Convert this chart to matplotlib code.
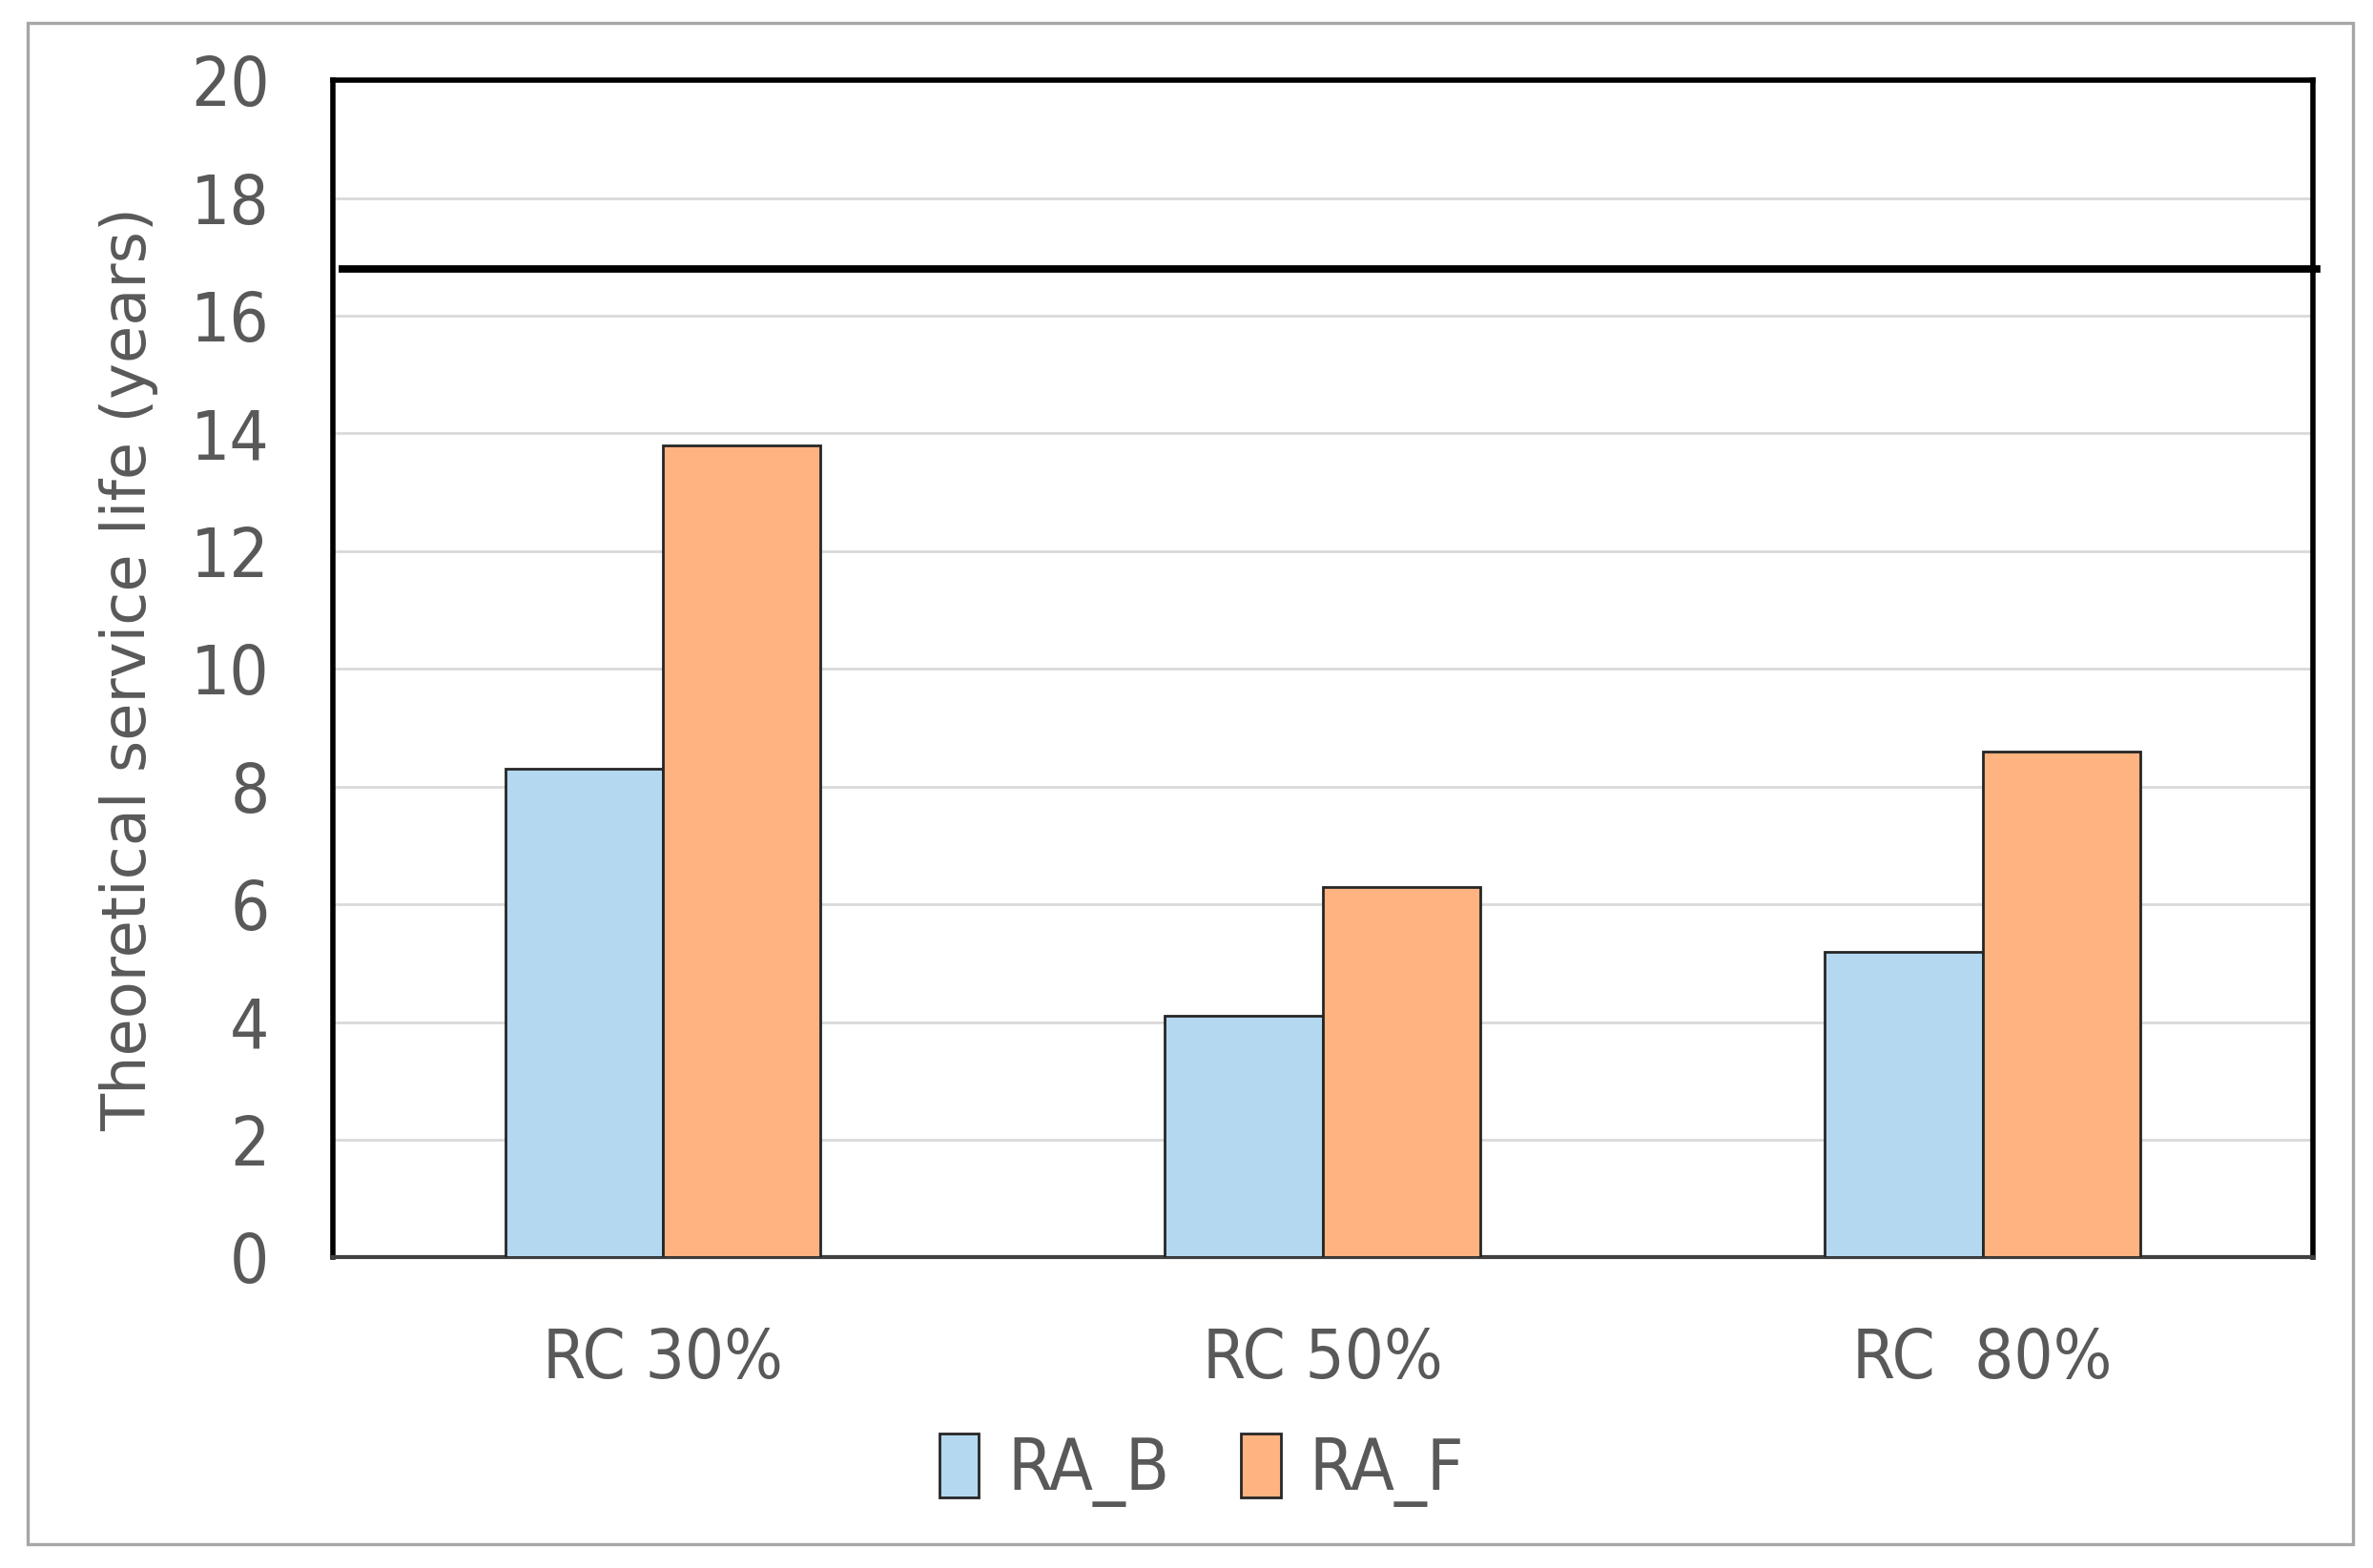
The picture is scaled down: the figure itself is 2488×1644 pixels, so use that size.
import matplotlib
matplotlib.use("Agg")
import matplotlib.pyplot as plt
import numpy as np
from matplotlib.patches import Rectangle

categories = ["RC 30%", "RC 50%", "RC  80%"]
series_names = ["RA_B", "RA_F"]
ra_b = [8.3, 4.1, 5.2]
ra_f = [13.8, 6.3, 8.6]
reference_line = 16.8
yticks = [0, 2, 4, 6, 8, 10, 12, 14, 16, 18, 20]

colors = ["#B4D8F0", "#FFB381"]
text_color = "#595959"

fig = plt.figure(figsize=(12.44, 8.22), dpi=200)
fig.patch.set_facecolor("white")
fig.patches.append(Rectangle((0.0115, 0.0154), 0.9802, 0.9701, transform=fig.transFigure,
                             fill=False, edgecolor="#A6A6A6", linewidth=1.2, zorder=0))

ax = fig.add_axes([0.1403, 0.198, 0.8342, 0.7508])
x = np.arange(len(categories))
w = 0.239
ax.bar(x - w / 2, ra_b, width=w, color=colors[0], edgecolor="#262626", linewidth=1.0,
       label=series_names[0], zorder=3)
ax.bar(x + w / 2, ra_f, width=w, color=colors[1], edgecolor="#262626", linewidth=1.0,
       label=series_names[1], zorder=3)

ax.axhline(reference_line, xmin=0.005, xmax=1.002, color="black", linewidth=2.8,
           clip_on=False, zorder=4)

ax.set_xlim(-0.5, len(categories) - 0.5)
ax.set_ylim(0, 20)
ax.set_yticks(yticks)
ax.set_xticks(x)
ax.set_xticklabels(categories)
ax.yaxis.grid(True, color="#D9D9D9", linewidth=1.0, zorder=0)
ax.set_axisbelow(True)

for side in ["top", "left", "right"]:
    ax.spines[side].set_color("black")
    ax.spines[side].set_linewidth(2.0)
ax.spines["bottom"].set_color("#404040")
ax.spines["bottom"].set_linewidth(1.5)

ax.tick_params(axis="both", length=0, colors=text_color, labelsize=26)
ax.tick_params(axis="y", pad=24)
ax.tick_params(axis="x", pad=26)
for lbl in ax.get_yticklabels() + ax.get_xticklabels():
    lbl.set_family("DejaVu Sans")
    lbl.set_stretch("condensed")

ax.set_ylabel("Theoretical service life (years)", fontsize=23, color=text_color, labelpad=12,
              family="DejaVu Sans")

leg = ax.legend(loc="upper center", bbox_to_anchor=(0.439, -0.095), ncol=2, frameon=False,
                handlelength=0.55, handleheight=1.0, handletextpad=0.4,
                columnspacing=1.0, prop={"family": "DejaVu Sans", "stretch": "condensed", "size": 27})
for t in leg.get_texts():
    t.set_color(text_color)

fig.savefig("out.png", dpi=200, facecolor="white")
